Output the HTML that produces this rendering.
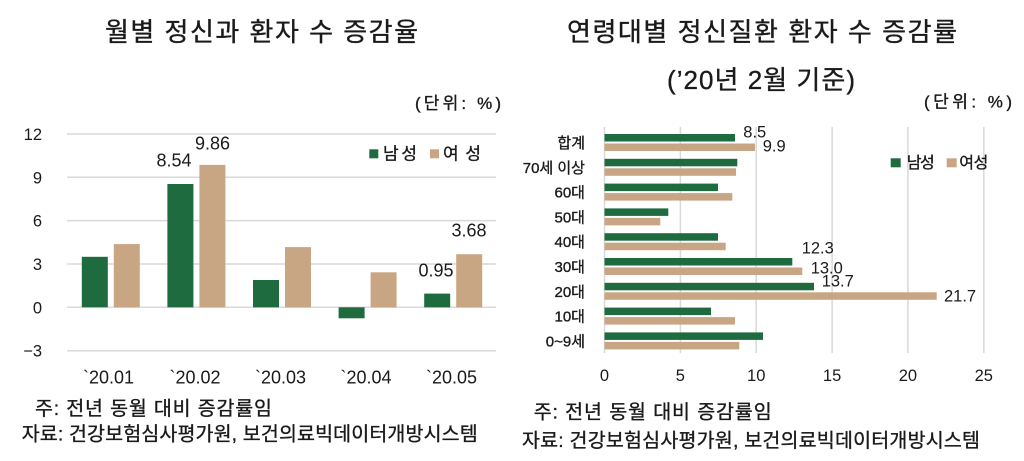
<!DOCTYPE html>
<html><head><meta charset="utf-8"><style>
html,body{margin:0;padding:0;background:#fff;}
svg{display:block;}
text{font-family:"Liberation Sans","Noto Sans CJK KR",sans-serif;fill:#1a1a1a;}
.k{stroke:#1a1a1a;stroke-width:0.35;}
</style></head><body>
<svg width="1024" height="461" viewBox="0 0 1024 461" xmlns="http://www.w3.org/2000/svg">
<rect width="1024" height="461" fill="#fff"/>
<!-- LEFT CHART -->
<text class="k" x="105" y="41" font-size="26" textLength="313" lengthAdjust="spacing">월별 정신과 환자 수 증감율</text>
<text class="k" x="415" y="109" font-size="17" textLength="86" lengthAdjust="spacing">(단위: %)</text>
<g stroke="#d9d9d9" stroke-width="1.5">
<line x1="67" y1="134" x2="496" y2="134"/>
<line x1="67" y1="177.3" x2="496" y2="177.3"/>
<line x1="67" y1="220.6" x2="496" y2="220.6"/>
<line x1="67" y1="264" x2="496" y2="264"/>
<line x1="67" y1="307.3" x2="496" y2="307.3"/>
<line x1="67" y1="350.7" x2="496" y2="350.7"/>
</g>
<g font-size="16.5" text-anchor="end">
<text x="42" y="140">12</text>
<text x="42" y="183.3">9</text>
<text x="42" y="226.6">6</text>
<text x="42" y="270">3</text>
<text x="42" y="313.3">0</text>
<text x="42" y="356.7">−3</text>
</g>
<g fill="#1f6b40">
<rect x="81.8" y="256.8" width="26" height="50.5"/>
<rect x="167.4" y="184" width="26" height="123.3"/>
<rect x="253" y="280" width="26" height="27.3"/>
<rect x="338.6" y="307.3" width="26" height="11"/>
<rect x="424.2" y="293.6" width="26" height="13.7"/>
</g>
<g fill="#c8a684">
<rect x="113.8" y="244.1" width="26" height="63.2"/>
<rect x="199.4" y="164.9" width="26" height="142.4"/>
<rect x="285" y="247.1" width="26" height="60.2"/>
<rect x="370.6" y="272.3" width="26" height="35"/>
<rect x="456.2" y="254.2" width="26" height="53.1"/>
</g>
<g font-size="18" text-anchor="middle">
<text x="174" y="166.5">8.54</text>
<text x="212.5" y="149.3">9.86</text>
<text x="469" y="236.7">3.68</text>
<text x="436" y="276.7">0.95</text>
</g>
<g font-size="18" text-anchor="middle">
<text x="108.5" y="383.3">`20.01</text>
<text x="195" y="383.3">`20.02</text>
<text x="280.5" y="383.3">`20.03</text>
<text x="366" y="383.3">`20.04</text>
<text x="451.5" y="383.3">`20.05</text>
</g>
<rect x="369.3" y="149.3" width="9" height="9" fill="#1f6b40"/>
<text class="k" x="383" y="159.5" font-size="17" textLength="34" lengthAdjust="spacing">남성</text>
<rect x="430" y="149.3" width="9" height="9" fill="#c8a684"/>
<text class="k" x="443" y="159.5" font-size="17" textLength="38" lengthAdjust="spacing">여성</text>
<text class="k" x="35" y="415" font-size="19.5" textLength="237" lengthAdjust="spacing">주: 전년 동월 대비 증감률임</text>
<text class="k" x="21.7" y="440.5" font-size="19.5" textLength="456" lengthAdjust="spacing">자료: 건강보험심사평가원, 보건의료빅데이터개방시스템</text>

<!-- RIGHT CHART -->
<text class="k" x="567" y="41" font-size="26" textLength="390" lengthAdjust="spacing">연령대별 정신질환 환자 수 증감률</text>
<text class="k" x="667" y="89" font-size="26" textLength="188" lengthAdjust="spacing">(’20년 2월 기준)</text>
<text class="k" x="924" y="107.5" font-size="17" textLength="88" lengthAdjust="spacing">(단위: %)</text>
<g stroke="#d9d9d9" stroke-width="1.5">
<line x1="604.5" y1="127" x2="604.5" y2="353"/>
<line x1="680.4" y1="127" x2="680.4" y2="353"/>
<line x1="756.2" y1="127" x2="756.2" y2="353"/>
<line x1="832.1" y1="127" x2="832.1" y2="353"/>
<line x1="907.9" y1="127" x2="907.9" y2="353"/>
<line x1="983.8" y1="127" x2="983.8" y2="353"/>
</g>
<g fill="#1f6b40">
<rect x="604.5" y="134" width="130.5" height="7.5"/>
<rect x="604.5" y="158.8" width="132.8" height="7.5"/>
<rect x="604.5" y="183.6" width="113.5" height="7.5"/>
<rect x="604.5" y="208.4" width="63.8" height="7.5"/>
<rect x="604.5" y="233.2" width="113.5" height="7.5"/>
<rect x="604.5" y="258" width="187.8" height="7.5"/>
<rect x="604.5" y="282.8" width="209.5" height="7.5"/>
<rect x="604.5" y="307.6" width="106.5" height="7.5"/>
<rect x="604.5" y="332.4" width="158.5" height="7.5"/>
</g>
<g fill="#c8a684">
<rect x="604.5" y="143.5" width="150.5" height="7.5"/>
<rect x="604.5" y="168.3" width="131.5" height="7.5"/>
<rect x="604.5" y="193.1" width="127.8" height="7.5"/>
<rect x="604.5" y="217.9" width="55.8" height="7.5"/>
<rect x="604.5" y="242.7" width="121.2" height="7.5"/>
<rect x="604.5" y="267.5" width="197.8" height="7.5"/>
<rect x="604.5" y="292.3" width="332.2" height="7.5"/>
<rect x="604.5" y="317.1" width="130.5" height="7.5"/>
<rect x="604.5" y="341.9" width="134.8" height="7.5"/>
</g>
<g font-size="15" text-anchor="end" class="k">
<text x="585" y="148">합계</text>
<text x="585" y="172.8">70세 이상</text>
<text x="585" y="197.6">60대</text>
<text x="585" y="222.4">50대</text>
<text x="585" y="247.2">40대</text>
<text x="585" y="272">30대</text>
<text x="585" y="296.8">20대</text>
<text x="585" y="321.6">10대</text>
<text x="585" y="346.4">0~9세</text>
</g>
<g font-size="16.5">
<text x="743.3" y="137.3">8.5</text>
<text x="762.7" y="151.7">9.9</text>
<text x="801.7" y="253.3">12.3</text>
<text x="810.7" y="273.3">13.0</text>
<text x="821.7" y="286.7">13.7</text>
<text x="944" y="301.7">21.7</text>
</g>
<g font-size="16.5" text-anchor="middle">
<text x="604.5" y="381">0</text>
<text x="680.4" y="381">5</text>
<text x="756.2" y="381">10</text>
<text x="832.1" y="381">15</text>
<text x="907.9" y="381">20</text>
<text x="983.8" y="381">25</text>
</g>
<rect x="890.7" y="158.3" width="10" height="9" fill="#1f6b40"/>
<text class="k" x="906.7" y="168" font-size="16" textLength="28" lengthAdjust="spacing">남성</text>
<rect x="946.7" y="158.3" width="10" height="9" fill="#c8a684"/>
<text class="k" x="959.3" y="168" font-size="16" textLength="29" lengthAdjust="spacing">여성</text>
<text class="k" x="533.7" y="418.5" font-size="19.5" textLength="238" lengthAdjust="spacing">주: 전년 동월 대비 증감률임</text>
<text class="k" x="522" y="447" font-size="19.5" textLength="458" lengthAdjust="spacing">자료: 건강보험심사평가원, 보건의료빅데이터개방시스템</text>
</svg>
</body></html>
